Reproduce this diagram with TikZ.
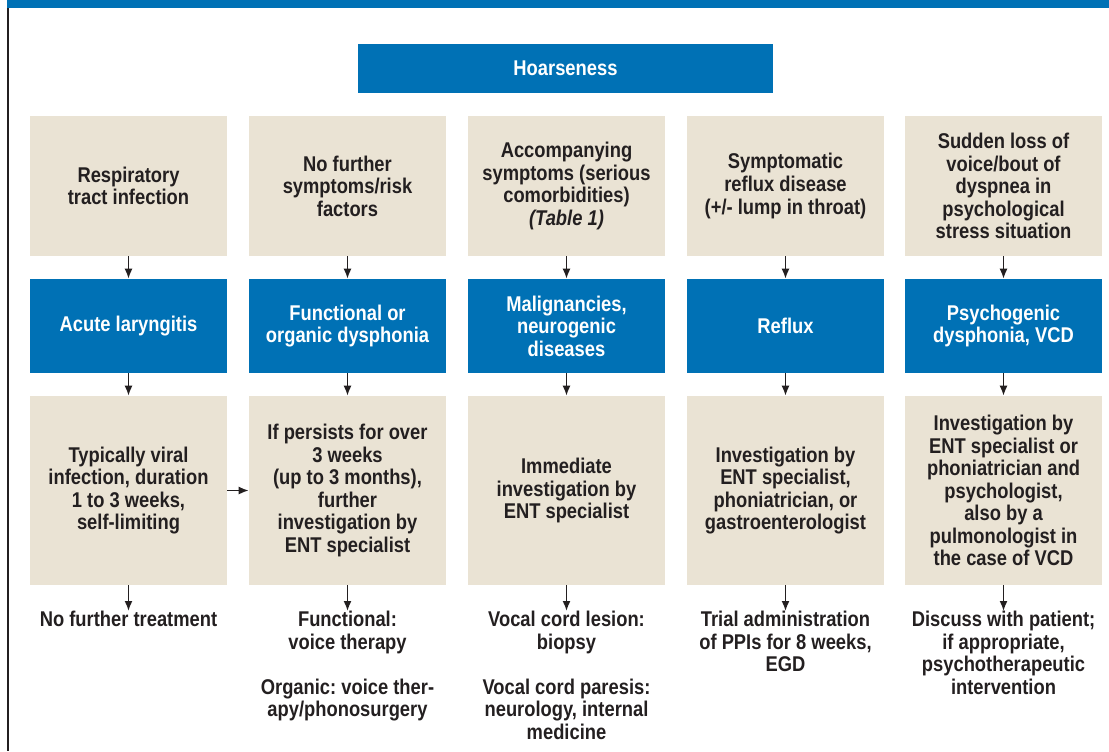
\documentclass[tikz,border=0pt]{standalone}
\usepackage{fontspec}
\setmainfont{Liberation Sans}[FakeStretch=0.86]
\usetikzlibrary{arrows.meta}
\definecolor{hblue}{RGB}{0,113,181}
\definecolor{hbeige}{RGB}{234,227,212}
\definecolor{hdark}{RGB}{35,31,32}
\frenchspacing
\begin{document}
\begin{tikzpicture}[x=0.75pt,y=-0.75pt,
  every node/.style={font=\fontsize{16}{16.9}\selectfont\bfseries\frenchspacing, align=center},
  beigebox/.style={fill=hbeige, text=hdark, minimum width=147.75pt, inner sep=0pt},
  bluebox/.style={fill=hblue, text=white, minimum width=147.75pt, inner sep=0pt},
  rowone/.style={minimum height=105pt},
  rowtwo/.style={minimum height=70.5pt},
  rowthree/.style={minimum height=141.75pt},
  arr/.style={draw=hdark, line width=1.25pt, -{Latex[length=7.5pt,width=6pt]}},
  outtext/.style={text=hdark, anchor=north, inner sep=0pt}]
\path[use as bounding box] (0,0) rectangle (1109,751);
\draw[hdark, line width=1.6pt] (8.3,0) -- (8.3,751);
\fill[hblue] (7,0) rectangle (1109,7.5);

\node[bluebox, minimum width=311.25pt, minimum height=36.75pt] (hoarse) at (565.5,68.5) {Hoarseness};

% column 1
\node[beigebox,rowone] (a1) at (128.5,186) {Respiratory\\tract infection};
\node[bluebox,rowtwo] (b1) at (128.5,326) {Acute laryngitis};
\node[beigebox,rowthree] (c1) at (128.5,490.5) {Typically viral\\infection, duration\\1 to 3 weeks,\\self-limiting};
\node[outtext] (d1) at (128.5,611) {No further treatment};

% column 2
\node[beigebox,rowone] (a2) at (347.5,186) {No further\\symptoms/risk\\factors};
\node[bluebox,rowtwo] (b2) at (347.5,326) {Functional or\\organic dysphonia};
\node[beigebox,rowthree] (c2) at (347.5,490.5) {If persists for over\\3 weeks\\(up to 3 months),\\further\\investigation by\\ENT specialist};
\node[outtext] (d2) at (347.5,611) {Functional:\\voice therapy\\[16.9pt]Organic: voice ther-\\apy/phonosurgery};

% column 3
\node[beigebox,rowone] (a3) at (566.5,186) {Accompanying\\symptoms (serious\\comorbidities)\\\textit{(Table 1)}};
\node[bluebox,rowtwo] (b3) at (566.5,326) {Malignancies,\\neurogenic\\diseases};
\node[beigebox,rowthree] (c3) at (566.5,490.5) {Immediate\\investigation by\\ENT specialist};
\node[outtext] (d3) at (566.5,611) {Vocal cord lesion:\\biopsy\\[16.9pt]Vocal cord paresis:\\neurology, internal\\medicine};

% column 4
\node[beigebox,rowone] (a4) at (785.5,186) {Symptomatic\\reflux disease\\(+/- lump in throat)};
\node[bluebox,rowtwo] (b4) at (785.5,326) {Reflux};
\node[beigebox,rowthree] (c4) at (785.5,490.5) {Investigation by\\ENT specialist,\\phoniatrician, or\\gastroenterologist};
\node[outtext] (d4) at (785.5,611) {Trial administration\\of PPIs for 8 weeks,\\EGD};

% column 5
\node[beigebox,rowone] (a5) at (1003.5,186) {Sudden loss of\\voice/bout of\\dyspnea in\\psychological\\stress situation};
\node[bluebox,rowtwo] (b5) at (1003.5,326) {Psychogenic\\dysphonia, VCD};
\node[beigebox,rowthree] (c5) at (1003.5,490.5) {Investigation by\\ENT specialist or\\phoniatrician and\\psychologist,\\also by a\\pulmonologist in\\the case of VCD};
\node[outtext] (d5) at (1003.5,611) {Discuss with patient;\\if appropriate,\\psychotherapeutic\\intervention};

\foreach \i in {1,...,5}{
  \draw[arr] (a\i) -- (b\i);
  \draw[arr] (b\i) -- (c\i);
  \draw[arr] (c\i.south) -- (d\i.north);
}
\draw[arr] (c1) -- (c2);
\end{tikzpicture}
\end{document}
